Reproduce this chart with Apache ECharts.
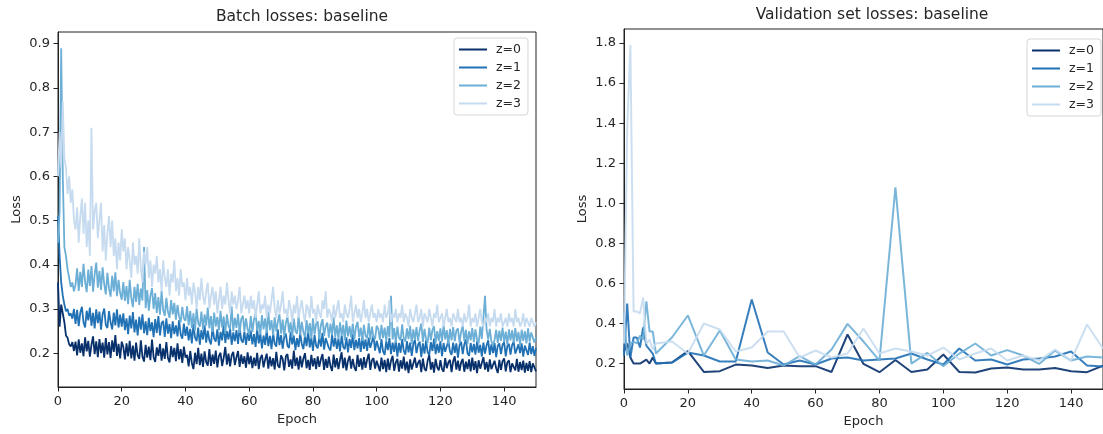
<!DOCTYPE html>
<html><head><meta charset="utf-8">
<script src="https://cdn.jsdelivr.net/npm/echarts@6/dist/echarts.min.js"></script>
<style>html,body{margin:0;padding:0;background:#fff}#c{width:1103px;height:434px}</style>
</head><body><div id="c"></div>
<script>
const seriesNames = ['z=0', 'z=1', 'z=2', 'z=3'];
const seriesColors = ['#08306b', '#2171b5', '#6baed6', '#c6dbef'];

// Batch losses, sampled every BATCH_STEP epochs from epoch 0 to 150
const BATCH_STEP = 0.5;
const batchZ0 = [
.36,.26,.31,.29,.27,.24,.235,.22,.215,.225,.205,
.226,.195,.231,.201,.222,.193,.236,.204,.228,.192,
.219,.238,.198,.227,.191,.232,.2,.224,.19,.234,
.197,.225,.189,.229,.203,.241,.194,.221,.188,.226,
.214,.186,.222,.193,.228,.188,.217,.183,.224,.195,
.187,.229,.192,.181,.219,.19,.215,.184,.231,.191,
.18,.213,.194,.221,.183,.211,.187,.225,.189,.179,
.216,.191,.212,.182,.222,.186,.209,.178,.215,.19,
.196,.17,.205,.178,.164,.201,.175,.212,.173,.199,
.169,.204,.18,.172,.209,.171,.197,.176,.206,.168,
.194,.201,.171,.19,.214,.174,.199,.17,.195,.203,
.173,.191,.205,.169,.197,.176,.193,.167,.202,.175,
.194,.166,.19,.171,.201,.164,.188,.196,.168,.186,
.199,.165,.192,.17,.189,.163,.203,.172,.167,.195,
.187,.161,.193,.198,.169,.186,.165,.206,.171,.19,
.163,.194,.168,.188,.2,.166,.185,.162,.196,.17,
.189,.164,.193,.169,.186,.198,.162,.187,.167,.192,
.171,.16,.197,.168,.189,.164,.185,.202,.166,.19,
.161,.183,.194,.165,.187,.168,.16,.196,.169,.188,
.163,.191,.167,.185,.199,.162,.184,.189,.165,.183,
.182,.159,.19,.164,.185,.157,.188,.162,.183,.194,
.16,.179,.187,.158,.184,.165,.192,.161,.181,.155,
.186,.163,.159,.19,.167,.178,.185,.157,.188,.165,
.16,.183,.196,.163,.18,.156,.187,.168,.161,.184,
.164,.158,.189,.166,.179,.185,.157,.182,.193,.163,
.183,.16,.179,.187,.158,.181,.164,.186,.159,.19,
.162,.182,.155,.184,.165,.161,.191,.163,.18,.158,
.186,.164,.16,.183,.166,.155,.185,.162,.182,.188,
.159,.179,.184,.157,.177,.181,.161,.187,.158,.18,
.162,.183,.156,.178,.16,.182,.157,.177,.179,.159
];
const batchZ1 = [
.51,.42,.36,.33,.31,.295,.3,.285,.29,.278,.3,
.266,.298,.261,.292,.305,.27,.258,.296,.274,.303,
.262,.291,.256,.299,.268,.294,.253,.288,.301,.264,
.257,.295,.27,.254,.292,.263,.299,.258,.287,.26,
.29,.252,.279,.243,.285,.256,.293,.247,.276,.24,
.282,.253,.288,.245,.272,.241,.28,.25,.27,.236,
.277,.246,.284,.24,.268,.273,.237,.279,.244,.266,
.234,.272,.243,.263,.238,.275,.242,.233,.267,.239,
.26,.229,.255,.222,.266,.235,.227,.258,.219,.252,
.231,.263,.224,.251,.229,.22,.259,.233,.226,.254,
.217,.248,.229,.265,.223,.25,.231,.256,.219,.247,
.227,.252,.221,.258,.23,.224,.249,.219,.246,.228,
.251,.22,.243,.214,.256,.222,.244,.211,.24,.219,
.252,.216,.239,.209,.246,.221,.215,.254,.218,.241,
.21,.237,.244,.217,.212,.248,.22,.24,.207,.234,
.214,.245,.221,.209,.239,.216,.251,.213,.235,.205,
.241,.217,.211,.238,.215,.246,.208,.234,.237,.212,
.206,.242,.215,.235,.21,.233,.204,.24,.214,.209,
.236,.202,.232,.212,.243,.207,.23,.211,.234,.203,
.237,.21,.231,.205,.235,.212,.208,.239,.206,.228,
.226,.2,.232,.204,.196,.227,.207,.234,.198,.224,
.203,.229,.192,.223,.201,.232,.205,.197,.227,.202,
.224,.194,.221,.23,.2,.219,.226,.191,.222,.199,
.229,.202,.196,.225,.205,.233,.198,.221,.201,.227,
.193,.223,.203,.199,.228,.204,.196,.224,.201,.222,
.19,.218,.226,.198,.22,.231,.2,.194,.223,.202,
.221,.197,.227,.201,.219,.192,.224,.199,.218,.229,
.196,.22,.2,.223,.191,.217,.222,.198,.219,.225,
.193,.216,.221,.197,.218,.226,.199,.195,.22,.2,
.222,.192,.217,.219,.196,.224,.198,.216,.194,.212
];
const batchZ2 = [
.45,.52,.89,.6,.44,.42,.39,.37,.35,.36,.34,
.355,.392,.341,.384,.35,.402,.362,.338,.389,.352,
.397,.339,.378,.405,.348,.386,.343,.394,.356,.333,
.382,.347,.328,.375,.34,.383,.329,.366,.336,.321,
.361,.318,.352,.311,.366,.325,.304,.35,.316,.357,
.309,.346,.319,.44,.302,.343,.296,.33,.347,.3,
.336,.291,.327,.287,.341,.298,.284,.325,.293,.28,
.32,.288,.314,.276,.309,.283,.27,.305,.279,.273,
.306,.263,.296,.257,.29,.251,.301,.268,.26,.294,
.253,.288,.262,.303,.256,.284,.248,.292,.26,.282,
.252,.296,.258,.283,.244,.288,.261,.254,.306,.25,
.28,.257,.289,.246,.277,.285,.25,.279,.254,.243,
.284,.248,.276,.29,.251,.273,.242,.286,.254,.279,
.246,.293,.252,.275,.24,.281,.249,.272,.288,.244,
.276,.238,.269,.283,.247,.27,.235,.278,.25,.244,
.285,.241,.271,.248,.236,.275,.245,.268,.233,.279,
.242,.266,.272,.231,.264,.277,.239,.261,.269,.235,
.267,.241,.281,.237,.263,.232,.27,.24,.264,.229,
.274,.238,.261,.235,.267,.231,.259,.271,.236,.258,
.228,.264,.239,.234,.268,.23,.26,.237,.232,.262,
.255,.23,.264,.234,.258,.227,.261,.236,.33,.231,
.257,.224,.26,.235,.229,.265,.233,.226,.256,.232,
.262,.221,.254,.23,.259,.228,.252,.267,.225,.255,
.232,.223,.258,.229,.253,.261,.222,.25,.228,.256,
.226,.264,.231,.252,.22,.255,.229,.259,.227,.251,
.256,.224,.248,.262,.228,.253,.221,.25,.229,.257,
.225,.254,.23,.222,.26,.232,.228,.33,.252,.231,
.255,.226,.219,.23,.253,.223,.251,.228,.258,.225,
.249,.22,.254,.229,.252,.224,.257,.227,.248,.218,
.253,.228,.25,.222,.256,.226,.247,.251,.224,.236
];
const batchZ3 = [
.6,.7,.62,.77,.64,.62,.56,.6,.54,.57,.5,
.48,.53,.45,.51,.55,.47,.54,.44,.5,.42,
.71,.48,.52,.54,.46,.5,.54,.43,.49,.41,
.47,.51,.44,.5,.42,.46,.39,.45,.41,.48,
.43,.46,.39,.44,.41,.37,.45,.4,.42,.38,
.46,.39,.36,.43,.4,.44,.37,.41,.35,.4,
.38,.42,.36,.39,.34,.41,.37,.35,.39,.33,
.38,.36,.41,.34,.37,.33,.39,.35,.36,.32,
.37,.33,.35,.31,.36,.34,.3,.35,.32,.37,
.33,.31,.34,.36,.3,.33,.35,.31,.34,.29,
.32,.35,.3,.33,.31,.36,.32,.29,.34,.31,
.33,.3,.32,.35,.29,.31,.33,.3,.32,.29,
.33,.3,.32,.28,.31,.34,.29,.31,.3,.33,
.28,.31,.29,.32,.35,.3,.28,.32,.29,.31,
.34,.29,.3,.28,.32,.3,.27,.31,.29,.33,
.28,.3,.32,.29,.27,.31,.3,.28,.33,.29,
.3,.27,.31,.29,.28,.32,.3,.34,.28,.3,
.29,.27,.31,.28,.3,.32,.28,.29,.27,.31,
.29,.28,.3,.33,.27,.29,.31,.28,.3,.27,
.29,.32,.28,.3,.27,.29,.31,.28,.29,.27,
.3,.28,.29,.27,.31,.28,.29,.32,.27,.29,
.28,.3,.27,.29,.28,.31,.27,.29,.28,.26,
.3,.28,.27,.29,.31,.27,.28,.3,.26,.29,
.28,.27,.3,.28,.26,.29,.28,.31,.27,.28,
.29,.26,.28,.3,.27,.28,.26,.29,.28,.27,
.3,.27,.28,.26,.29,.27,.28,.31,.26,.28,
.27,.29,.26,.28,.3,.27,.26,.28,.27,.29,
.26,.28,.27,.3,.26,.28,.27,.29,.26,.27,
.28,.26,.29,.27,.28,.26,.3,.27,.28,.26,
.27,.29,.26,.28,.27,.26,.28,.27,.26,.27
];

// Validation set losses
const valEpochs = [0,1,2,3,4,5,6,7,8,9,10,15,20,25,30,35,40,45,50,55,60,65,70,75,80,85,90,95,100,105,110,115,120,125,130,135,140,145,150];
const valZ0 = [.26,.3,.23,.2,.2,.2,.21,.22,.2,.23,.2,.205,.262,.158,.162,.195,.19,.178,.19,.187,.187,.158,.345,.198,.157,.218,.158,.17,.245,.158,.155,.175,.18,.17,.17,.178,.162,.157,.19];
const valZ1 = [.24,.5,.23,.33,.33,.28,.38,.29,.27,.25,.2,.205,.255,.24,.21,.21,.52,.255,.195,.215,.195,.225,.23,.215,.22,.225,.25,.22,.195,.275,.215,.22,.195,.22,.225,.235,.26,.19,.185];
const valZ2 = [.45,.24,.3,.31,.3,.34,.32,.51,.36,.36,.25,.33,.44,.24,.365,.22,.21,.215,.19,.237,.195,.27,.398,.31,.215,1.08,.2,.253,.187,.25,.3,.24,.267,.24,.198,.265,.215,.235,.23];
const valZ3 = [.3,1.37,1.79,.46,.46,.45,.53,.3,.32,.27,.3,.31,.25,.4,.37,.26,.28,.36,.36,.23,.265,.23,.25,.375,.25,.275,.26,.24,.28,.22,.25,.275,.215,.24,.215,.27,.215,.395,.275];

const xTicks = [0, 20, 40, 60, 80, 100, 120, 140];
const batchYTicks = [0.2, 0.3, 0.4, 0.5, 0.6, 0.7, 0.8, 0.9];
const valYTicks = [0.2, 0.4, 0.6, 0.8, 1.0, 1.2, 1.4, 1.6, 1.8];

const FONT = 'DejaVu Sans';
const TXT = '#262626';

const batchSets = [batchZ0, batchZ1, batchZ2, batchZ3];
const valSets = [valZ0, valZ1, valZ2, valZ3];

function xAxisCfg(grid) {
  return {
    type: 'value', gridIndex: grid, min: 0, max: 150,
    name: 'Epoch', nameLocation: 'middle', nameGap: 23,
    nameTextStyle: { fontFamily: FONT, fontSize: 13, color: TXT },
    axisLine: { show: true, lineStyle: { color: '#222', width: 1 } },
    axisTick: { show: true, inside: false, length: 4.5, customValues: xTicks, lineStyle: { color: '#222' } },
    axisLabel: { show: true, margin: 8, customValues: xTicks, fontFamily: FONT, fontSize: 13, color: TXT },
    splitLine: { show: false }
  };
}
function yAxisCfg(grid, min, max, ticks, gap) {
  return {
    type: 'value', gridIndex: grid, min: min, max: max,
    name: 'Loss', nameLocation: 'middle', nameGap: gap, nameRotate: 90,
    nameTextStyle: { fontFamily: FONT, fontSize: 13, color: TXT },
    axisLine: { show: true, lineStyle: { color: '#222', width: 1 } },
    axisTick: { show: true, inside: false, length: 4.5, customValues: ticks, lineStyle: { color: '#222' } },
    axisLabel: { show: true, margin: 8, customValues: ticks, fontFamily: FONT, fontSize: 13, color: TXT,
      formatter: v => v.toFixed(1) },
    splitLine: { show: false }
  };
}
function legendCfg(left, top) {
  return {
    data: seriesNames, orient: 'vertical', left: left, top: top,
    icon: 'rect', itemWidth: 28, itemHeight: 2, itemGap: 5,
    padding: [5, 7, 5, 5],
    backgroundColor: 'rgba(255,255,255,0.85)', borderColor: '#d6d6d6', borderWidth: 1, borderRadius: 3,
    textStyle: { fontFamily: FONT, fontSize: 12.5, color: TXT, padding: [0, 0, 0, 4] },
    selectedMode: false
  };
}

const series = [];
batchSets.forEach((arr, k) => {
  series.push({
    name: seriesNames[k], type: 'line', xAxisIndex: 0, yAxisIndex: 0,
    data: arr.map((v, i) => [i * BATCH_STEP, v]),
    showSymbol: false, symbol: 'none',
    lineStyle: { color: seriesColors[k], width: 1.8 },
    itemStyle: { color: seriesColors[k] },
    z: 2 + k * 0.1, animation: false
  });
});
valSets.forEach((arr, k) => {
  series.push({
    name: seriesNames[k], type: 'line', xAxisIndex: 1, yAxisIndex: 1,
    data: arr.map((v, i) => [valEpochs[i], v]),
    showSymbol: false, symbol: 'none',
    lineStyle: { color: seriesColors[k], width: 2, opacity: 0.9 },
    itemStyle: { color: seriesColors[k] },
    z: 2 + k * 0.1, animation: false
  });
});

const chart = echarts.init(document.getElementById('c'), null, { renderer: 'canvas' });
chart.setOption({
  backgroundColor: '#fff',
  animation: false,
  title: [
    { text: 'Batch losses: baseline', left: 297, top: 4, textAlign: 'center',
      textStyle: { fontFamily: FONT, fontSize: 15.5, fontWeight: 'normal', color: TXT } },
    { text: 'Validation set losses: baseline', left: 867, top: 2, textAlign: 'center',
      textStyle: { fontFamily: FONT, fontSize: 15.5, fontWeight: 'normal', color: TXT } }
  ],
  grid: [
    { left: 58, top: 32, width: 478, height: 355, show: true, borderColor: '#222', borderWidth: 1, backgroundColor: 'transparent' },
    { left: 624, top: 29, width: 486, height: 360, show: true, borderColor: '#222', borderWidth: 1, backgroundColor: 'transparent' }
  ],
  xAxis: [xAxisCfg(0), xAxisCfg(1)],
  yAxis: [yAxisCfg(0, 0.1235, 0.9265, batchYTicks, 35), yAxisCfg(1, 0.073, 1.87, valYTicks, 35)],
  legend: [legendCfg(454, 38), legendCfg(1027, 39)],
  tooltip: { show: false },
  series: series
});
</script></body></html>
